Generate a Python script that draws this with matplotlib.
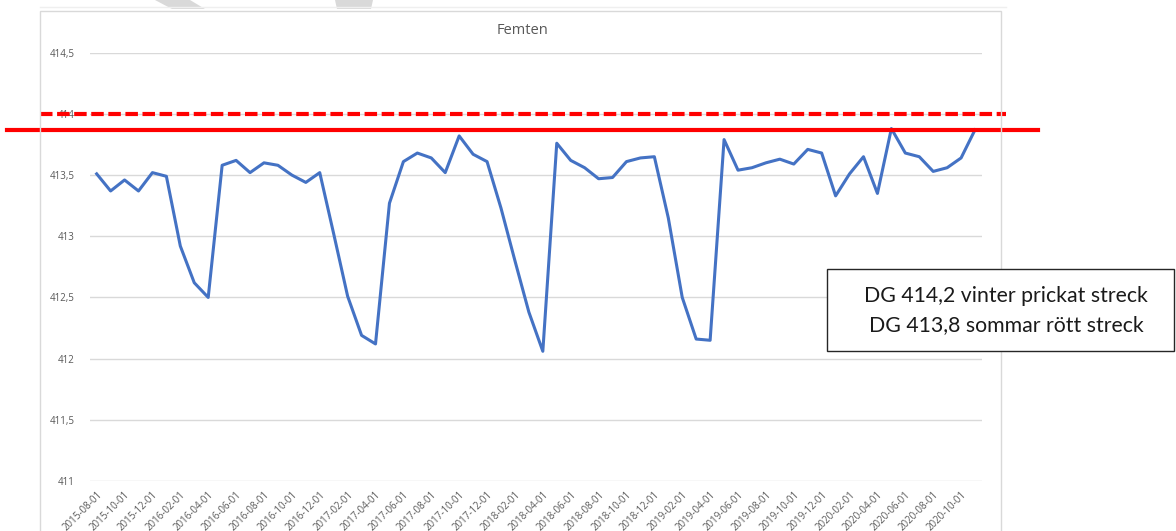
import numpy as np
import pandas as pd
import matplotlib
matplotlib.use('Agg')
import matplotlib.pyplot as plt
from matplotlib.patches import Rectangle, Polygon
from matplotlib.transforms import blended_transform_factory

# monthly levels, 2015-08 .. 2020-11
levels = [413.51, 413.37, 413.46, 413.37, 413.52, 413.49, 412.92, 412.62,
          412.50, 413.58, 413.62, 413.52, 413.60, 413.58, 413.50, 413.44,
          413.52, 413.02, 412.51, 412.19, 412.12, 413.27, 413.61, 413.68,
          413.64, 413.52, 413.82, 413.67, 413.61, 413.23, 412.80, 412.38,
          412.06, 413.76, 413.62, 413.56, 413.47, 413.48, 413.61, 413.64,
          413.65, 413.15, 412.50, 412.16, 412.15, 413.79, 413.54, 413.56,
          413.60, 413.63, 413.59, 413.71, 413.68, 413.33, 413.51, 413.65,
          413.35, 413.88, 413.68, 413.65, 413.53, 413.56, 413.64, 413.87]
dates = pd.date_range('2015-08-01', periods=len(levels), freq='MS')
date_labels = [d.strftime('%Y-%m-%d') for d in dates]

yticks = [411, 411.5, 412, 412.5, 413, 413.5, 414, 414.5]
ytick_labels = ['411', '411,5', '412', '412,5', '413', '413,5', '414', '414,5']

winter_line = 414.0   # dashed (drawn position)
summer_line = 413.87  # solid
note_lines = ['DG 414,2 vinter prickat streck', 'DG 413,8 sommar rött streck']

W, H = 1176, 531
fig = plt.figure(figsize=(W / 100, H / 100), dpi=100)

def fx(x):
    return x / W

def fy(y):
    return 1 - y / H

# chart area border and faint shapes at the top
fig.add_artist(Rectangle((fx(40), fy(560)), fx(1001) - fx(40), fy(11) - fy(560),
                         transform=fig.transFigure, fill=False, ec='#d9d9d9', lw=1))
fig.add_artist(plt.Line2D([fx(40), fx(1006)], [fy(7), fy(7)], transform=fig.transFigure,
                          color='#efefef', lw=1))
for pts in ([(155, 0), (190, 0), (205, 9), (172, 9)], [(335, 0), (373, 0), (371, 9), (337, 9)]):
    fig.add_artist(Polygon([(fx(a), fy(b)) for a, b in pts], closed=True,
                           transform=fig.transFigure, color='#d9d9d9', lw=0))

ax = fig.add_axes([fx(89.7), fy(481), fx(982) - fx(89.7), fy(52.7) - fy(481)])
x = np.arange(len(levels))
ax.plot(x, levels, color='#4472C4', lw=2.2, solid_joinstyle='round', zorder=3)

ax.set_xlim(-0.5, len(levels) - 0.5)
ax.set_ylim(411, 414.5)
ax.set_yticks(yticks)
ax.set_yticklabels(ytick_labels)
ax.set_xticks(x[::2])
ax.set_xticklabels(date_labels[::2], rotation=45, ha='right', rotation_mode='anchor')
ax.tick_params(axis='y', length=0, pad=11, labelsize=7, labelcolor='#595959')
ax.tick_params(axis='x', length=0, pad=6, labelsize=7, labelcolor='#595959')
for lab in ax.get_xticklabels() + ax.get_yticklabels():
    lab.set_family('Open Sans')
ax.grid(axis='y', color='#d9d9d9', lw=1)
ax.set_axisbelow(True)
for s in ax.spines.values():
    s.set_visible(False)

fig.text(fx(522), fy(30), 'Femten', ha='center', va='center', fontsize=10.5,
         color='#595959', family='Open Sans')

# red level lines drawn across the chart
tr = blended_transform_factory(fig.transFigure, ax.transData)
ax.plot([fx(40), fx(1006)], [winter_line, winter_line], transform=tr, color='#ff0000',
        lw=3, linestyle=(0, (3, 1.1)), clip_on=False, zorder=5)
ax.plot([fx(7), fx(1038)], [summer_line, summer_line], transform=tr, color='#ff0000',
        lw=3, clip_on=False, zorder=5)

# note box
fig.add_artist(Rectangle((fx(827), fy(351)), fx(1174) - fx(827), fy(269) - fy(351),
                         transform=fig.transFigure, fc='white', ec='#262626', lw=1))
fig.text(fx(1006), fy(296), note_lines[0], ha='center', va='center', fontsize=15.3,
         color='#1a1a1a', family='Lato')
fig.text(fx(1006), fy(325), note_lines[1], ha='center', va='center', fontsize=15.3,
         color='#1a1a1a', family='Lato')

fig.savefig('out.png', dpi=100)
